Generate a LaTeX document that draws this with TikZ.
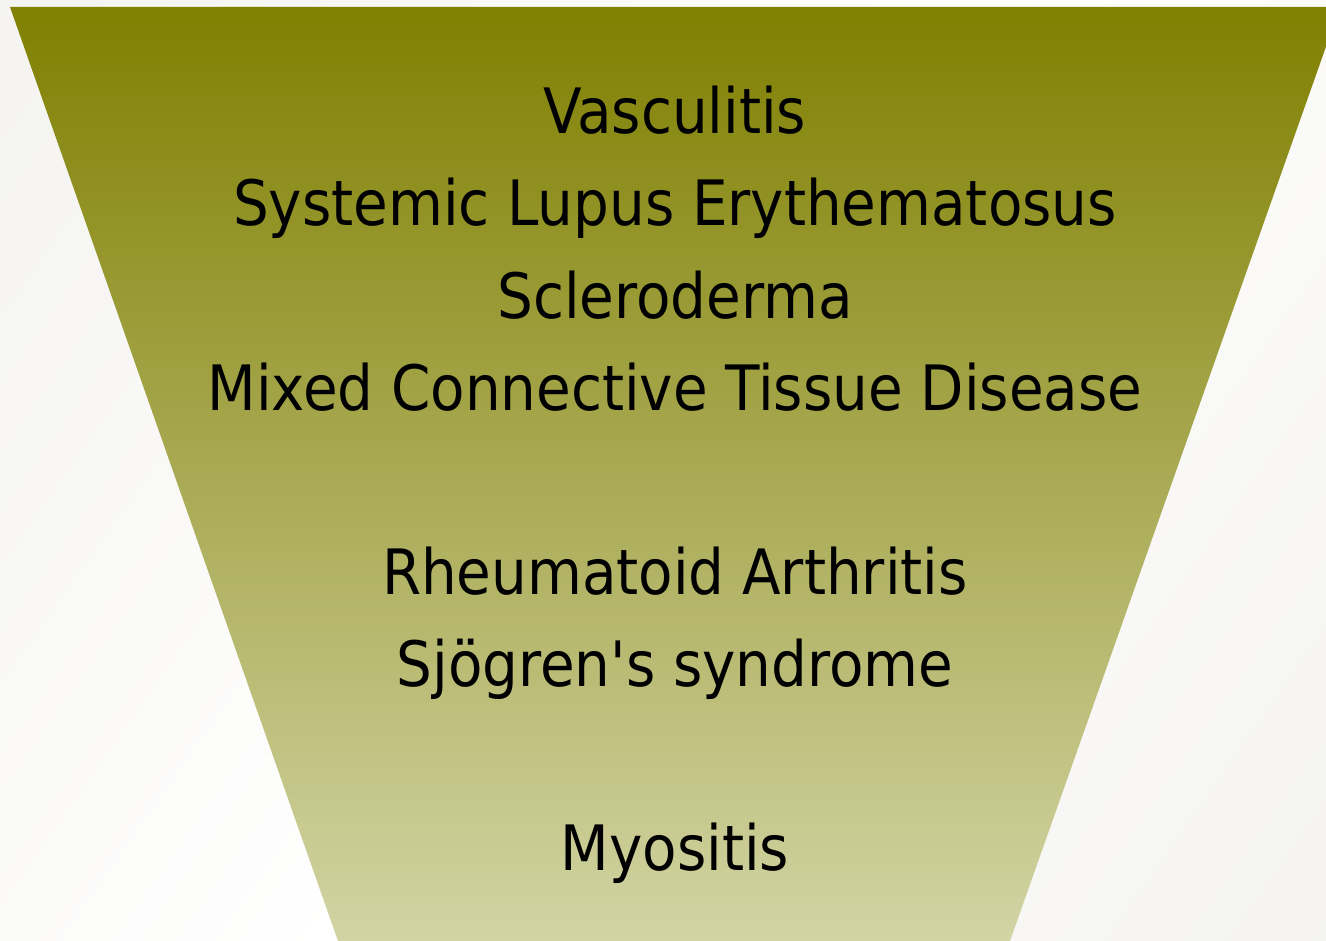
\documentclass[tikz,border=0pt]{standalone}
\usepackage{fontspec}
\setmainfont{DejaVu Sans Condensed}[Ligatures=TeXOff]
\usepackage{tikz}
\usetikzlibrary{positioning,calc}
\definecolor{olivetop}{RGB}{128,128,2}
\definecolor{olivebottom}{RGB}{210,212,164}
\definecolor{bggrey}{RGB}{241,240,236}
\pgfdeclarehorizontalshading{bgshade}{100bp}{color(0bp)=(bggrey); color(25bp)=(bggrey!60!white); color(50bp)=(white); color(75bp)=(bggrey!60!white); color(100bp)=(bggrey)}
\begin{document}
\begin{tikzpicture}[
    x=0.5pt, y=-0.5pt,
    item/.style={anchor=base, inner sep=0pt, font=\fontsize{31.3pt}{38pt}\selectfont, text=black},
    funnel/.style={top color=olivetop, bottom color=olivebottom, draw=none}
]
\useasboundingbox (0,0) rectangle (1326,941);
\shade[shading=bgshade, shading angle=-35] (0,0) rectangle (1326,941);

% funnel body
\coordinate (tl) at (10,7);
\coordinate (tr) at (1340,7);
\coordinate (br) at (1010,941);
\coordinate (bl) at (338,941);
\path[funnel] (tl) -- (tr) -- (br) -- (bl) -- cycle;

% disease list
\node[item] (vasc) at (675,134) {Vasculitis};
\node[item] (sle) at (675,226) {Systemic Lupus Erythematosus};
\node[item] (scl) at (675,318) {Scleroderma};
\node[item] (mctd) at (675,410) {Mixed Connective Tissue Disease};
\node[item] (ra) at (675,594) {Rheumatoid Arthritis};
\node[item] (sjo) at (675,686) {Sjögren's syndrome};
\node[item] (myo) at (675,870) {Myositis};
\end{tikzpicture}
\end{document}
